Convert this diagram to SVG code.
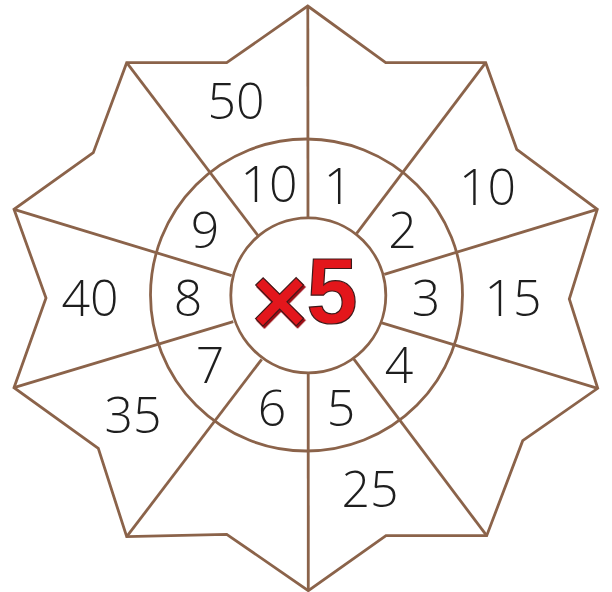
<svg xmlns="http://www.w3.org/2000/svg" width="612" height="592" viewBox="0 0 612 592">
  <style>
    .ln { fill: none; stroke: #8b634a; stroke-width: 2.8; stroke-linejoin: miter; stroke-linecap: butt; }
    .num { font-family: "Open Sans", "Liberation Sans", sans-serif; font-weight: 300; font-size: 50px; fill: #1e1e1e; text-anchor: middle; }
    .red { font-family: "Liberation Sans", "DejaVu Sans", sans-serif; font-weight: 900; fill: #e3161b; stroke: #3a1a1a; stroke-width: 1.2; text-anchor: middle; }
  </style>
  <defs>
    <filter id="shade" x="-20%" y="-20%" width="140%" height="140%">
      <feDropShadow dx="1.5" dy="2" stdDeviation="0.3" flood-color="#9a0d14" flood-opacity="1"/>
    </filter>
  </defs>
  <rect width="612" height="592" fill="#ffffff"/>
  <g id="star">
    <polygon class="ln" points="307.7,6 385.7,62.7 485.7,62.7 516.7,149.3 597.3,209.3 569.3,299 597.7,388.3 522.7,440.7 486.7,535.7 386,535.7 308.3,590.7 226.7,534.3 126.7,536.7 98.3,448.3 14,387.7 46,298 14,209.3 93.3,152.7 126.7,62.7 226.7,62.7"/>
  </g>
  <g id="rings">
    <circle class="ln" cx="306.5" cy="295" r="156"/>
    <circle class="ln" cx="308.3" cy="295.3" r="77.5"/>
  </g>
  <g id="connectors">
    <line class="ln" x1="307.8" y1="6" x2="308" y2="218"/>
    <line class="ln" x1="308.2" y1="373" x2="308.3" y2="590.7"/>
    <line class="ln" x1="126.7" y1="62.7" x2="258.3" y2="236"/>
    <line class="ln" x1="485.7" y1="62.7" x2="356.7" y2="233.3"/>
    <line class="ln" x1="14" y1="209.3" x2="231.7" y2="275.7"/>
    <line class="ln" x1="597.3" y1="209.3" x2="384.3" y2="274.3"/>
    <line class="ln" x1="14" y1="387.7" x2="233.3" y2="321.7"/>
    <line class="ln" x1="597.7" y1="388.3" x2="381" y2="322.7"/>
    <line class="ln" x1="126.7" y1="536.7" x2="261.7" y2="359.3"/>
    <line class="ln" x1="486.7" y1="535.7" x2="353.3" y2="358.3"/>
  </g>
  <g id="inner-labels">
    <g id="n1"><text class="num" x="338" y="204">1</text></g>
    <g id="n2"><text class="num" x="402.5" y="248">2</text></g>
    <g id="n3"><text class="num" x="426" y="316">3</text></g>
    <g id="n4"><text class="num" x="399" y="383">4</text></g>
    <g id="n5"><text class="num" x="341" y="426">5</text></g>
    <g id="n6"><text class="num" x="272" y="426">6</text></g>
    <g id="n7"><text class="num" x="210" y="383">7</text></g>
    <g id="n8"><text class="num" x="188" y="316">8</text></g>
    <g id="n9"><text class="num" x="205" y="248">9</text></g>
    <g id="n10"><text class="num" x="269" y="202">10</text></g>
  </g>
  <g id="outer-labels">
    <g id="p10"><text class="num" x="487.5" y="205">10</text></g>
    <g id="p15"><text class="num" x="513" y="316">15</text></g>
    <g id="p25"><text class="num" x="370" y="507">25</text></g>
    <g id="p35"><text class="num" x="133" y="433">35</text></g>
    <g id="p40"><text class="num" x="90" y="316">40</text></g>
    <g id="p50"><text class="num" x="236" y="119">50</text></g>
  </g>
  <g id="center">
    <text class="red" x="279.5" y="333.5" font-size="96" filter="url(#shade)">×</text>
    <text class="red" x="332" y="323" font-size="92">5</text>
  </g>
</svg>
